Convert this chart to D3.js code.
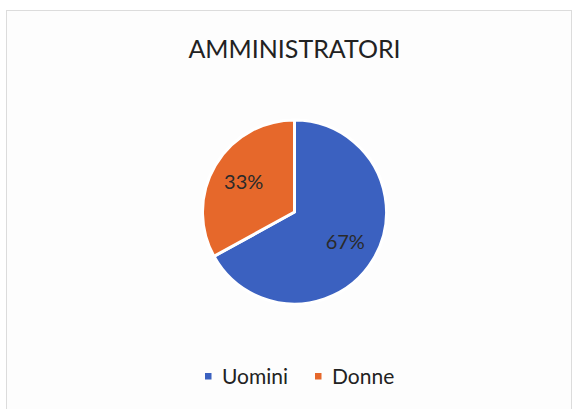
<!DOCTYPE html>
<html>
<head>
<meta charset="utf-8">
<script src="https://cdn.jsdelivr.net/npm/d3@7"></script>
<style>
  body { margin: 0; background: #fff; }
  text { font-family: Lato, "Open Sans", sans-serif; }
</style>
</head>
<body>
<div id="chart"></div>
<script>
var wt = 576;
var ht = 409;

// data
var categories = ["Uomini", "Donne"];
var shares = [67, 33];
var colors = ["#3b61c0", "#e6682b"];
var title = "AMMINISTRATORI";

var cx = 294.5, cy = 212, radius = 92;

var svg = d3.select("#chart").append("svg")
    .attr("width", wt)
    .attr("height", ht);

svg.append("rect")
    .attr("x", 6.5)
    .attr("y", 10.5)
    .attr("width", 565)
    .attr("height", 410)
    .attr("fill", "#fdfdfd")
    .attr("stroke", "#dcdcdc");

svg.append("text")
    .attr("x", cx)
    .attr("y", 58)
    .attr("text-anchor", "middle")
    .attr("font-size", 25)
    .attr("fill", "#222")
    .text(title);

var data = categories.map(function (c, i) {
    return {name: c, value: shares[i], color: colors[i]};
});

var pie = d3.pie()
    .sort(null)
    .value(function (d) { return d.value; });

var arc = d3.arc()
    .innerRadius(0)
    .outerRadius(radius);

var labelArc = d3.arc()
    .innerRadius(59)
    .outerRadius(59);

var total = d3.sum(shares);
var pct = d3.format(".0%");

var g = svg.append("g")
    .attr("transform", "translate(" + cx + "," + cy + ")");

var slices = pie(data);

g.selectAll("path")
    .data(slices)
    .enter().append("path")
    .attr("d", arc)
    .attr("fill", function (d) { return d.data.color; })
    .attr("stroke", "#fff")
    .attr("stroke-width", 3)
    .attr("stroke-linejoin", "round");

g.selectAll("text.lbl")
    .data(slices)
    .enter().append("text")
    .attr("class", "lbl")
    .attr("transform", function (d) { return "translate(" + labelArc.centroid(d) + ")"; })
    .attr("text-anchor", "middle")
    .attr("dy", "0.36em")
    .attr("font-size", 20)
    .attr("fill", "#2a2a2a")
    .text(function (d) { return pct(d.data.value / total); });

// legend
var legend = svg.append("g")
    .attr("transform", "translate(0,384)");

var legX = [205, 315];
var item = legend.selectAll("g")
    .data(data)
    .enter().append("g")
    .attr("transform", function (d, i) { return "translate(" + legX[i] + ",0)"; });

item.append("rect")
    .attr("x", 0)
    .attr("y", -11)
    .attr("width", 6.5)
    .attr("height", 6.5)
    .attr("fill", function (d) { return d.color; });

item.append("text")
    .attr("x", 17)
    .attr("y", 0)
    .attr("font-size", 21)
    .attr("fill", "#222")
    .text(function (d) { return d.name; });
</script>
</body>
</html>
